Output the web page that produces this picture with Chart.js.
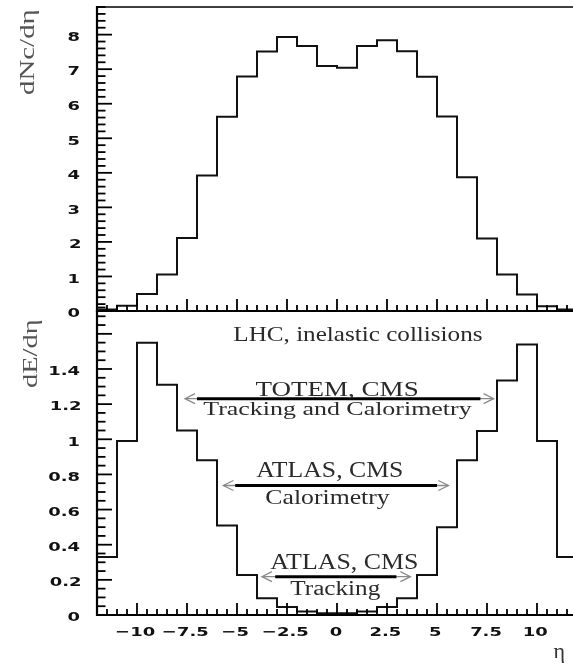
<!DOCTYPE html>
<html><head><meta charset="utf-8">
<script src="https://cdn.jsdelivr.net/npm/chart.js@4.4.1/dist/chart.umd.min.js"></script>
<style>
html,body{margin:0;padding:0;background:#fff;overflow:hidden;width:573px;height:666px}
#wrap{position:relative;width:580px;height:666px;overflow:hidden}
#wrap canvas{position:absolute;left:0;top:0}
</style></head><body>
<div id="wrap"><canvas id="cTop" width="580" height="666"></canvas><canvas id="cBot" width="580" height="666"></canvas></div>
<script>
// ---- data ----
const etaBinLow = [-12,-11,-10,-9,-8,-7,-6,-5,-4,-3,-2,-1,0,1,2,3,4,5,6,7,8,9,10,11];
const etaBinWidth = 1;
const dNcdEta = [0.04,0.15,0.49,1.06,2.11,3.92,5.62,6.79,7.51,7.93,7.67,7.09,7.04,7.67,7.84,7.52,6.78,5.63,3.87,2.10,1.06,0.48,0.14,0.04];
const dEdEta  = [0.33,0.99,1.55,1.31,1.05,0.88,0.51,0.227,0.095,0.045,0.02,0.01,0.01,0.02,0.045,0.095,0.227,0.50,0.88,1.047,1.335,1.54,0.99,0.33];
const xMajorTicks = [-10,-7.5,-5,-2.5,0,2.5,5,7.5,10];
const xTickLabels = ['\u221210','\u22127.5','\u22125','\u22122.5','0','2.5','5','7.5','10'];
const yTopTicks = [0,1,2,3,4,5,6,7,8];
const yTopLabels = ['0','1','2','3','4','5','6','7','8'];
const yBotTicks = [0,0.2,0.4,0.6,0.8,1,1.2,1.4];
const yBotLabels = ['0','0.2','0.4','0.6','0.8','1','1.2','1.4'];
const topTitle = 'dNc/d\u03b7';
const botTitle = 'dE/d\u03b7';
const xTitle = '\u03b7';
const annotationTexts = ['LHC, inelastic collisions','TOTEM, CMS','Tracking and Calorimetry','ATLAS, CMS','Calorimetry','ATLAS, CMS','Tracking'];
const arrowRanges = [[-7.0,7.17],[-5.09,5.0],[-3.09,2.97]];

// ---- helpers ----
function histPoints(values){
  const pts = etaBinLow.map((x,i)=>({x:x, y:values[i]}));
  pts.push({x: etaBinLow[etaBinLow.length-1]+etaBinWidth, y: values[values.length-1]});
  return pts;
}
function range(a,b,step){const out=[];const n=Math.round((b-a)/step);for(let i=0;i<=n;i++)out.push(Math.round((a+i*step)*1e6)/1e6);return out;}
function seg(ctx,x1,y1,x2,y2){ctx.beginPath();ctx.moveTo(x1,y1);ctx.lineTo(x2,y2);ctx.stroke();}

const TICK_FONT = 'bold 13px "DejaVu Sans"';
const TICK_SX = 1.38;
function tickLabel(ctx, txt, x, y, align){
  ctx.save();
  ctx.font = TICK_FONT; ctx.textAlign='left'; ctx.textBaseline='alphabetic';
  const m = ctx.measureText(txt);
  ctx.translate(x,y); ctx.scale(TICK_SX,1);
  let dx = align==='right' ? -m.actualBoundingBoxRight : -(m.actualBoundingBoxRight - m.actualBoundingBoxLeft)/2;
  ctx.fillStyle='#111';
  ctx.fillText(txt, dx, 0);
  ctx.restore();
}
function fitText(ctx, txt, sizePx, cx, baseY, inkW, color){
  ctx.save();
  ctx.font = sizePx+'px "Liberation Serif"'; ctx.textAlign='left'; ctx.textBaseline='alphabetic';
  const m = ctx.measureText(txt);
  const nat = m.actualBoundingBoxLeft + m.actualBoundingBoxRight;
  const sx = inkW/nat;
  ctx.translate(cx, baseY); ctx.scale(sx,1);
  ctx.fillStyle=color;
  ctx.fillText(txt, -(m.actualBoundingBoxRight - m.actualBoundingBoxLeft)/2, 0);
  ctx.restore();
}
function yTitle(ctx, txt, baseX, endY, len, sizePx, color){
  ctx.save();
  ctx.font = sizePx+'px "Liberation Serif"'; ctx.textAlign='left'; ctx.textBaseline='alphabetic';
  const m = ctx.measureText(txt);
  const nat = m.actualBoundingBoxLeft + m.actualBoundingBoxRight;
  ctx.translate(baseX, endY); ctx.rotate(-Math.PI/2); ctx.scale(len/nat,1);
  ctx.fillStyle=color;
  ctx.fillText(txt, -m.actualBoundingBoxRight, 0);
  ctx.restore();
}

function drawFrame(chart, cfg){
  const ctx = chart.ctx, a = chart.chartArea, xs = chart.scales.x, ys = chart.scales.y;
  ctx.save();
  ctx.strokeStyle='#000'; ctx.lineCap='butt';
  ctx.lineWidth = 2.2;
  seg(ctx, a.left, a.top-1, a.left, a.bottom+1);
  seg(ctx, a.left-1, a.bottom, a.right+2, a.bottom);
  if (cfg.topBorder){ ctx.lineWidth=1.6; seg(ctx, a.left, a.top, a.right+2, a.top); }
  // y ticks
  ctx.lineWidth = 1.8;
  const yMin = ys.min, yMax = ys.max;
  range(0, yMax, cfg.yMinorStep).forEach(v=>{
    const py = ys.getPixelForValue(v);
    const isMajor = Math.abs(v/cfg.yMajorStep - Math.round(v/cfg.yMajorStep))<1e-6;
    seg(ctx, a.left, py, a.left + (isMajor?15:8.5), py);
  });
  // x ticks
  range(xs.min, xs.max, 0.5).forEach(v=>{
    const px = xs.getPixelForValue(v);
    const isMajor = Math.abs(v/2.5 - Math.round(v/2.5))<1e-6;
    seg(ctx, px, a.bottom, px, a.bottom - (isMajor?12:6));
  });
  // y labels
  cfg.yTicks.forEach((v,i)=>{
    tickLabel(ctx, cfg.yLabels[i], a.left-17, ys.getPixelForValue(v)+6.3, 'right');
  });
  if (cfg.xLabels){
    xMajorTicks.forEach((v,i)=>{
      tickLabel(ctx, xTickLabels[i], xs.getPixelForValue(v)-1, a.bottom+21, 'center');
    });
  }
  ctx.restore();
}

const topPlugin = {id:'topFrame', afterDraw(chart){
  drawFrame(chart, {topBorder:true, yMinorStep:0.2, yMajorStep:1, yTicks:yTopTicks, yLabels:yTopLabels, xLabels:false});
  yTitle(chart.ctx, topTitle, 34, chart.chartArea.top+3, 85, 22, '#555');
}};

const botPlugin = {id:'botFrame', afterDraw(chart){
  const ctx = chart.ctx, a = chart.chartArea, xs = chart.scales.x, ys = chart.scales.y;
  drawFrame(chart, {topBorder:false, yMinorStep:0.05, yMajorStep:0.2, yTicks:yBotTicks, yLabels:yBotLabels, xLabels:true});
  yTitle(ctx, botTitle, 37, a.top+9, 68, 22, '#555');
  // x title
  ctx.save();
  ctx.font='22px "Liberation Serif"'; ctx.fillStyle='#333'; ctx.textAlign='right'; ctx.textBaseline='alphabetic';
  ctx.fillText(xTitle, a.right-12, 658);
  ctx.restore();
  // arrows
  const arrowY = [1.231, 0.737, 0.218];
  const tips = [[-7.6,7.83],[-5.68,5.57],[-3.75,3.67]];
  arrowRanges.forEach((r,i)=>{
    const py = ys.getPixelForValue(arrowY[i]);
    const t0 = xs.getPixelForValue(tips[i][0]), t1 = xs.getPixelForValue(tips[i][1]);
    ctx.save();
    ctx.strokeStyle='#8a8a8a'; ctx.lineWidth=1.3;
    seg(ctx, t0, py, t1, py);
    ctx.beginPath(); ctx.moveTo(t0+10, py-5); ctx.lineTo(t0, py); ctx.lineTo(t0+10, py+5); ctx.stroke();
    ctx.beginPath(); ctx.moveTo(t1-10, py-5); ctx.lineTo(t1, py); ctx.lineTo(t1-10, py+5); ctx.stroke();
    ctx.strokeStyle='#000'; ctx.lineWidth=3;
    seg(ctx, xs.getPixelForValue(r[0]), py, xs.getPixelForValue(r[1]), py);
    ctx.restore();
  });
  // texts: [eta center, value baseline, font px, ink width]
  const place = [[1.04,1.562,21,249],[-0.035,1.246,22,161.7],[0.04,1.138,19,269],[-0.40,0.785,24,145.7],[-0.46,0.631,21,125],[0.33,0.260,24,146.7],[-0.085,0.114,20,90]];
  annotationTexts.forEach((t,i)=>{
    const p = place[i];
    fitText(ctx, t, p[2], xs.getPixelForValue(p[0]), ys.getPixelForValue(p[1]), p[3], '#2a2a2a');
  });
}};

function makeChart(id, values, yMax, padding, plugin){
  return new Chart(document.getElementById(id), {
    type:'line',
    data:{datasets:[{data:histPoints(values), stepped:true, borderColor:'#111', borderWidth:2, pointRadius:0, fill:false, tension:0}]},
    options:{
      responsive:false, animation:false, events:[], devicePixelRatio:1,
      layout:{padding:padding},
      scales:{
        x:{type:'linear', min:-12, max:12, display:false},
        y:{type:'linear', min:0, max:yMax, display:false}
      },
      plugins:{legend:{display:false}, tooltip:{enabled:false}}
    },
    plugins:[plugin]
  });
}
makeChart('cTop', dNcdEta, 8.8, {left:97, top:7, right:3, bottom:355}, topPlugin);
makeChart('cBot', dEdEta, 1.73, {left:97, top:311, right:3, bottom:51}, botPlugin);
</script>
</body></html>
